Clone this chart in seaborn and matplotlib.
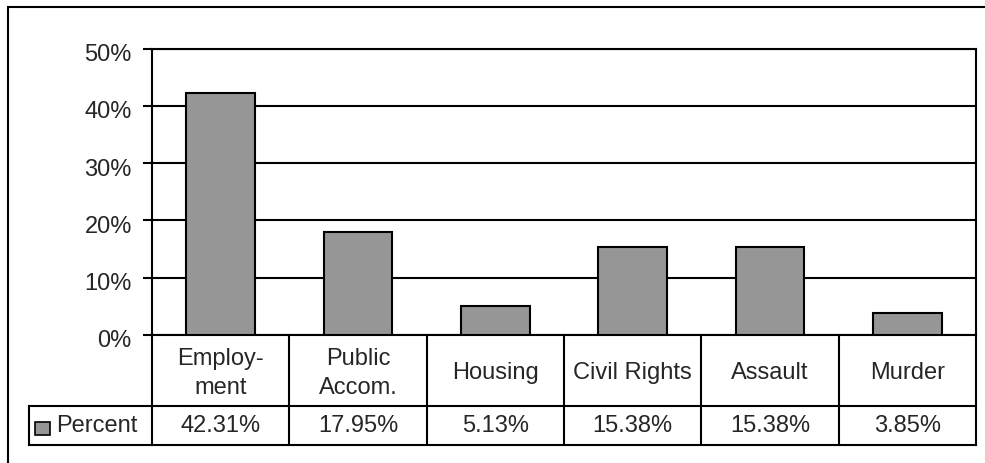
import matplotlib
matplotlib.use("Agg")
import matplotlib.pyplot as plt
import seaborn as sns
import pandas as pd
from matplotlib.patches import Rectangle
from matplotlib.transforms import ScaledTranslation

categories = ["Employ-\nment", "Public\nAccom.", "Housing", "Civil Rights", "Assault", "Murder"]
values = [42.31, 17.95, 5.13, 15.38, 15.38, 3.85]
series_name = "Percent"
y_ticks = [0, 10, 20, 30, 40, 50]

df = pd.DataFrame({"category": categories, "percent": values})

sns.set_style("white")
plt.rcParams["font.family"] = ["Liberation Sans", "DejaVu Sans"]
FS = 17

W, H = 985, 464
fig = plt.figure(figsize=(W / 100, H / 100), dpi=100)
fig.patch.set_facecolor("white")

# outer chart border (extends past right/bottom edge)
fig.patches.append(Rectangle((8 / W, -0.1), 1.2, (H - 8) / H + 0.1, transform=fig.transFigure,
                             fill=False, edgecolor="black", linewidth=1.5))

ax_left, ax_right, ax_top, ax_bottom = 152, 976, 49.5, 336
ax = fig.add_axes([ax_left / W, (H - ax_bottom) / H, (ax_right - ax_left) / W, (ax_bottom - ax_top) / H])

sns.barplot(data=df, x="category", y="percent", order=categories, width=0.5, color="#969696",
            saturation=1, edgecolor="black", linewidth=1.5, ax=ax, zorder=3)

ax.set_xlim(-0.5, len(categories) - 0.5)
ax.set_ylim(0, 50)
ax.set_yticks(y_ticks)
ax.set_yticklabels([f"{v}%" for v in y_ticks], fontsize=FS)
ax.set_xlabel("")
ax.set_ylabel("")
ax.tick_params(axis="x", length=0, labelbottom=False)
ax.tick_params(axis="y", direction="out", length=6.5, width=1.5, pad=8, color="black", left=True)
shift = ScaledTranslation(0, -3 / 100, fig.dpi_scale_trans)
for lab in ax.get_yticklabels():
    lab.set_transform(lab.get_transform() + shift)
ax.yaxis.grid(True, color="black", linewidth=1.5)
ax.set_axisbelow(True)
for s in ax.spines.values():
    s.set_visible(True)
    s.set_color("black")
    s.set_linewidth(1.5)

# data table below the axis
tr = ax.get_xaxis_transform()
ax_h = ax_bottom - ax_top
unit = (ax_right - ax_left) / len(categories)
r1 = -(407 - ax_bottom) / ax_h
r2 = -(446 - ax_bottom) / ax_h
x_leg = -0.5 - (ax_left - 29) / unit
xr = len(categories) - 0.5
lk = dict(color="black", linewidth=1.5, clip_on=False, transform=tr, solid_capstyle="projecting")
ax.plot([x_leg, xr], [r1, r1], **lk)
ax.plot([x_leg, xr], [r2, r2], **lk)
ax.plot([x_leg, x_leg], [r1, r2], **lk)
for i in range(len(categories) + 1):
    ax.plot([i - 0.5, i - 0.5], [0, r2], **lk)

for i, (c, v) in enumerate(zip(categories, values)):
    ax.text(i, r1 / 2 - 2 / ax_h, c, transform=tr, ha="center", va="center", fontsize=FS, linespacing=1.45)
    ax.text(i, (r1 + r2) / 2, f"{v:.2f}%", transform=tr, ha="center", va="center", fontsize=FS)

# legend key
sx0 = -0.5 - (ax_left - 35) / unit
sx1 = -0.5 - (ax_left - 50) / unit
sy0 = -(436 - ax_bottom) / ax_h
sy1 = -(423 - ax_bottom) / ax_h
ax.add_patch(Rectangle((sx0, sy0), sx1 - sx0, sy1 - sy0, transform=tr, clip_on=False,
                       facecolor="#969696", edgecolor="black", linewidth=1.2))
ax.text(-0.5 - (ax_left - 56) / unit, (r1 + r2) / 2, series_name, transform=tr,
        ha="left", va="center", fontsize=FS)

fig.savefig("out.png", dpi=100)
